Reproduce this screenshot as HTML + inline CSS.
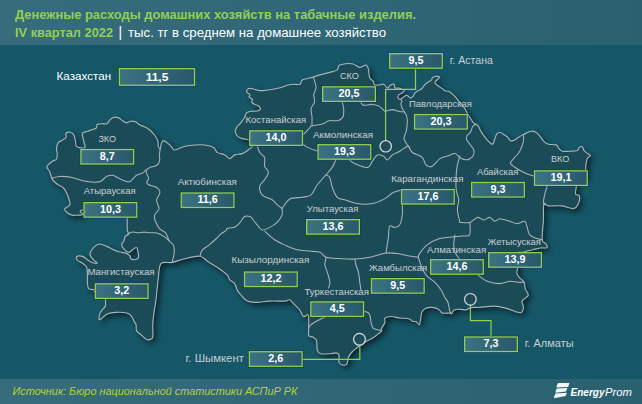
<!DOCTYPE html>
<html><head><meta charset="utf-8"><style>
html,body{margin:0;padding:0;width:642px;height:404px;overflow:hidden;background:#155667;}
svg{display:block;}
text{font-family:"Liberation Sans",sans-serif;}
</style></head><body>
<svg width="642" height="404" viewBox="0 0 642 404">
<defs>
<linearGradient id="hdr" x1="0" y1="0" x2="1" y2="0"><stop offset="0" stop-color="#366c7b"/><stop offset="1" stop-color="#2a6171"/></linearGradient>
<linearGradient id="box" x1="0" y1="0" x2="1" y2="0"><stop offset="0" stop-color="#3c7282"/><stop offset="1" stop-color="#28596a"/></linearGradient>
<filter id="sh" x="-10%" y="-10%" width="130%" height="130%"><feGaussianBlur in="SourceAlpha" stdDeviation="3"/><feOffset dx="3" dy="3"/><feComponentTransfer><feFuncA type="linear" slope="0.6"/></feComponentTransfer><feMerge><feMergeNode/><feMergeNode in="SourceGraphic"/></feMerge></filter>
<filter id="halo" x="-20%" y="-50%" width="140%" height="200%"><feGaussianBlur stdDeviation="0.7"/></filter>
<filter id="bsh" x="-20%" y="-30%" width="150%" height="180%"><feGaussianBlur in="SourceAlpha" stdDeviation="1.5"/><feOffset dx="2" dy="2"/><feComponentTransfer><feFuncA type="linear" slope="0.25"/></feComponentTransfer><feMerge><feMergeNode/><feMergeNode in="SourceGraphic"/></feMerge></filter>
</defs>
<rect x="0" y="0" width="642" height="404" fill="#155667"/>
<path d="M46.9,167.0 C46.9,165.6 48.5,164.5 49.5,163.5 C50.5,162.5 51.8,161.6 53.0,160.9 C54.2,160.2 55.8,160.3 56.5,159.2 C57.2,158.0 57.3,155.7 57.3,154.0 C57.3,152.3 56.4,150.7 56.5,148.8 C56.6,146.9 57.2,144.1 58.2,142.7 C59.2,141.2 61.2,141.0 62.5,140.1 C63.8,139.2 65.4,138.7 66.0,137.5 C66.6,136.3 65.3,134.1 66.0,133.2 C66.7,132.3 69.0,132.0 70.3,132.3 C71.6,132.6 72.9,133.5 73.8,134.9 C74.7,136.3 75.1,139.1 75.5,141.0 C75.9,142.9 75.5,145.0 76.4,146.2 C77.3,147.3 79.2,147.8 80.7,147.9 C82.2,148.1 84.7,148.5 85.1,147.1 C85.5,145.7 83.7,141.6 83.3,139.3 C82.9,137.0 81.9,134.5 82.5,133.2 C83.1,131.9 85.2,132.1 86.8,131.5 C88.4,130.9 90.4,130.3 92.0,129.7 C93.6,129.1 95.4,128.9 96.3,128.0 C97.2,127.1 96.2,125.2 97.2,124.5 C98.2,123.8 100.8,123.8 102.4,123.7 C104.0,123.6 105.7,124.4 106.9,123.8 C108.2,123.2 108.8,121.0 109.9,119.9 C111.1,118.8 112.3,117.6 113.8,117.3 C115.3,117.0 117.3,117.3 118.8,117.9 C120.3,118.5 121.4,120.0 122.7,120.8 C124.0,121.6 125.4,122.7 126.7,122.8 C128.0,122.9 129.1,121.4 130.6,121.2 C132.1,121.0 134.1,121.2 135.6,121.8 C137.1,122.4 138.1,124.0 139.6,124.8 C141.1,125.6 142.8,126.0 144.5,126.8 C146.2,127.6 148.0,128.7 149.5,129.8 C151.0,131.0 152.2,132.4 153.4,133.7 C154.6,135.0 155.6,136.4 156.4,137.7 C157.2,139.0 157.7,140.1 158.0,141.6 C158.3,143.1 158.0,145.4 158.4,146.6 C158.8,147.8 159.8,149.1 160.3,148.6 C160.8,148.1 160.8,144.9 161.3,143.6 C161.8,142.3 162.1,140.6 163.3,140.6 C164.5,140.6 166.8,142.4 168.3,143.6 C169.8,144.8 171.1,146.5 172.2,147.6 C173.3,148.7 172.9,150.2 175.0,150.0 C177.1,149.8 181.6,147.0 184.9,146.2 C188.2,145.4 191.6,145.2 194.9,145.0 C198.2,144.8 201.7,144.6 204.8,145.0 C207.9,145.4 211.5,146.2 213.6,147.4 C215.7,148.6 215.4,151.2 217.3,152.4 C219.2,153.7 222.7,153.9 224.8,154.9 C226.9,155.9 228.2,158.6 229.8,158.6 C231.5,158.6 232.6,155.7 234.7,154.9 C236.8,154.1 239.9,154.4 242.2,153.6 C244.5,152.8 246.5,151.3 248.4,149.9 C250.3,148.5 253.0,146.4 253.4,144.9 C253.8,143.4 251.7,141.5 250.8,140.7 C249.9,139.8 249.3,140.1 248.2,139.8 C247.0,139.5 245.2,139.2 243.9,138.9 C242.6,138.6 241.6,138.7 240.4,138.1 C239.2,137.5 237.8,136.7 236.9,135.5 C236.0,134.3 235.2,132.5 235.2,131.1 C235.2,129.7 236.0,128.1 236.9,126.8 C237.8,125.5 239.1,124.9 240.4,123.3 C241.7,121.7 243.7,119.0 244.7,117.3 C245.7,115.6 245.5,113.9 246.5,112.9 C247.5,111.9 249.2,111.5 250.8,111.2 C252.4,110.9 254.4,111.5 256.0,111.2 C257.6,110.9 259.9,110.4 260.3,109.5 C260.7,108.6 259.6,106.9 258.6,106.0 C257.6,105.1 255.5,105.0 254.3,104.3 C253.2,103.6 252.0,102.6 251.7,101.7 C251.4,100.8 252.9,99.8 252.5,99.1 C252.1,98.4 249.5,98.0 249.1,97.3 C248.7,96.6 250.3,95.6 249.9,94.7 C249.5,93.8 247.1,93.1 246.8,92.1 C246.5,91.1 247.2,89.3 248.2,88.7 C249.1,88.1 250.8,88.4 252.5,88.7 C254.2,89.0 256.6,90.1 258.6,90.4 C260.6,90.7 262.5,90.6 264.7,90.4 C266.9,90.2 269.0,89.9 271.6,89.5 C274.2,89.1 277.7,88.5 280.3,87.8 C282.9,87.1 285.2,85.8 287.2,85.2 C289.2,84.6 290.3,84.5 292.4,84.3 C294.5,84.1 298.4,85.0 300.0,84.3 C301.6,83.6 300.3,81.1 302.3,79.9 C304.3,78.8 309.3,78.2 312.2,77.4 C315.1,76.6 316.8,75.7 319.7,74.9 C322.6,74.1 326.8,73.2 329.7,72.4 C332.6,71.6 335.5,71.1 337.2,69.9 C338.9,68.7 337.2,66.0 339.7,65.0 C342.2,64.0 348.8,63.3 352.1,63.7 C355.4,64.1 357.3,67.2 359.6,67.4 C361.9,67.6 364.4,64.8 365.8,65.0 C367.2,65.2 367.7,66.6 368.3,68.7 C368.9,70.8 368.8,75.3 369.6,77.4 C370.4,79.5 372.5,80.0 373.3,81.2 C374.1,82.5 373.6,84.3 374.6,84.9 C375.6,85.5 378.0,85.0 379.5,84.9 C381.0,84.8 382.4,83.8 383.7,84.3 C385.0,84.8 386.4,87.8 387.5,88.0 C388.6,88.2 389.2,85.8 390.3,85.2 C391.4,84.6 393.2,83.8 394.0,84.3 C394.8,84.8 394.2,87.4 395.0,88.0 C395.8,88.6 397.7,87.9 398.7,88.0 C399.7,88.1 399.9,88.4 400.9,88.8 C401.8,89.2 404.1,89.5 404.4,90.2 C404.6,90.9 403.3,92.0 402.4,92.7 C401.5,93.5 399.7,93.9 399.0,94.7 C398.3,95.5 397.8,97.0 398.0,97.7 C398.2,98.5 399.4,99.4 400.4,99.2 C401.4,99.0 402.8,97.4 403.9,96.7 C405.0,96.0 405.9,95.0 406.9,95.2 C407.9,95.4 408.9,97.5 409.9,97.7 C410.9,98.0 412.0,97.5 412.8,96.7 C413.6,96.0 414.0,94.2 414.8,93.2 C415.6,92.2 416.7,91.4 417.8,90.7 C418.9,90.0 420.6,89.8 421.7,88.8 C422.8,87.8 423.5,86.0 424.7,84.8 C425.9,83.6 427.5,82.6 428.7,81.8 C429.9,81.0 431.0,80.6 431.6,79.9 C432.2,79.2 431.8,78.0 432.6,77.4 C433.4,76.8 435.4,76.5 436.6,76.4 C437.8,76.3 439.4,76.5 439.6,76.9 C439.9,77.3 438.8,78.2 438.1,78.9 C437.4,79.6 436.1,80.6 435.6,81.3 C435.1,82.0 434.6,82.5 435.1,83.3 C435.6,84.1 437.4,85.4 438.6,86.3 C439.8,87.2 441.4,88.1 442.5,88.8 C443.6,89.5 443.8,90.2 445.0,90.7 C446.2,91.2 447.9,90.9 449.5,91.8 C451.1,92.7 453.1,94.6 454.7,96.2 C456.3,97.8 457.4,99.5 459.0,101.4 C460.6,103.3 462.6,105.2 464.2,107.5 C465.8,109.8 466.9,112.7 468.5,115.3 C470.1,117.9 472.3,121.4 473.6,122.9 C474.9,124.4 475.5,123.7 476.3,124.3 C477.1,124.9 477.7,125.3 478.4,126.3 C479.1,127.3 479.4,128.7 480.4,130.4 C481.4,132.1 483.0,134.7 484.5,136.6 C486.0,138.5 487.9,140.8 489.3,142.0 C490.7,143.2 491.8,144.5 492.7,144.1 C493.6,143.7 494.0,141.0 494.7,139.3 C495.4,137.6 495.9,134.9 496.8,133.8 C497.7,132.7 499.1,132.4 500.2,132.5 C501.3,132.6 502.4,133.7 503.6,134.5 C504.9,135.3 506.6,136.2 507.7,137.2 C508.8,138.2 509.3,140.2 510.4,140.7 C511.5,141.2 513.1,140.6 514.5,140.0 C515.9,139.4 517.1,138.1 518.6,137.2 C520.1,136.3 522.0,135.2 523.4,134.5 C524.8,133.8 525.7,133.4 527.0,132.8 C528.3,132.2 529.7,131.2 531.2,131.2 C532.7,131.1 534.8,131.7 536.2,132.5 C537.7,133.3 538.5,134.5 539.9,136.2 C541.3,137.8 543.4,141.1 544.9,142.4 C546.4,143.8 546.8,143.9 548.7,144.3 C550.6,144.7 554.5,144.3 556.1,144.9 C557.8,145.5 557.6,147.1 558.6,148.1 C559.6,149.1 560.5,150.7 562.4,151.2 C564.3,151.7 567.3,151.3 569.8,151.2 C572.3,151.1 575.7,151.1 577.3,150.5 C578.9,149.9 578.4,148.0 579.2,147.4 C580.0,146.8 581.6,146.4 582.3,146.8 C583.0,147.2 583.0,149.0 583.6,149.9 C584.2,150.8 584.9,151.5 586.0,152.4 C587.1,153.3 590.2,154.5 590.4,155.5 C590.6,156.5 588.0,157.0 587.3,158.6 C586.6,160.2 586.3,163.2 586.0,165.0 C585.7,166.8 585.8,167.5 585.7,169.7 C585.7,171.9 587.2,176.6 585.7,178.0 C584.2,179.4 578.0,176.6 576.4,178.0 C574.8,179.4 576.5,183.8 576.4,186.4 C576.2,189.1 575.0,192.4 575.5,193.9 C576.0,195.4 578.6,194.5 579.2,195.7 C579.8,196.9 579.7,199.4 579.2,201.3 C578.7,203.2 577.5,205.7 576.4,206.9 C575.3,208.1 575.2,208.9 572.7,208.7 C570.2,208.5 565.6,206.4 561.6,205.9 C557.6,205.4 551.6,206.2 548.6,205.9 C545.6,205.6 544.8,201.8 543.9,204.1 C543.0,206.4 543.7,213.9 543.4,219.9 C543.1,225.9 541.8,235.9 542.2,239.8 C542.6,243.8 545.1,242.3 545.9,243.6 C546.7,244.8 547.4,246.6 547.2,247.3 C547.0,248.0 546.0,247.9 544.9,248.0 C543.8,248.1 542.4,247.8 540.9,248.0 C539.4,248.2 538.0,248.5 536.1,248.9 C534.2,249.3 531.8,250.0 529.6,250.5 C527.5,251.0 525.2,251.7 523.2,252.1 C521.2,252.5 518.7,251.6 517.8,252.9 C516.9,254.2 517.8,257.6 517.8,260.0 C517.8,262.4 518.0,265.5 517.8,267.6 C517.6,269.7 516.6,271.2 516.8,272.8 C517.0,274.4 517.7,275.4 518.9,277.0 C520.1,278.6 523.0,280.4 524.1,282.3 C525.2,284.2 524.5,286.5 525.2,288.6 C525.9,290.7 528.3,293.3 528.3,294.9 C528.3,296.5 526.2,297.1 525.2,298.1 C524.2,299.2 522.4,300.0 522.0,301.2 C521.6,302.4 522.9,304.0 523.1,305.4 C523.3,306.8 523.5,308.4 523.1,309.6 C522.8,310.8 522.2,312.5 521.0,312.8 C519.8,313.1 518.0,312.4 515.7,311.7 C513.4,311.0 510.7,309.5 507.2,308.6 C503.7,307.7 499.2,306.3 494.7,306.1 C490.2,305.9 483.3,307.2 480.0,307.4 C476.7,307.6 476.5,307.3 474.8,307.4 C473.1,307.5 471.3,307.7 469.8,308.1 C468.3,308.5 467.7,309.7 466.0,309.9 C464.3,310.1 461.8,309.3 459.8,309.3 C457.8,309.3 455.6,309.2 454.2,309.9 C452.8,310.6 452.4,313.2 451.7,313.7 C451.0,314.2 451.4,313.2 449.8,313.1 C448.2,313.0 444.0,313.5 442.4,313.1 C440.8,312.7 440.9,311.4 439.9,310.6 C438.8,309.8 437.8,308.6 436.1,308.1 C434.4,307.6 431.8,307.3 429.9,307.4 C428.0,307.5 426.2,307.9 424.9,308.7 C423.5,309.5 422.5,310.6 421.8,312.4 C421.1,314.2 421.0,317.2 420.6,319.3 C420.2,321.4 420.0,324.5 419.3,324.9 C418.6,325.3 417.3,322.4 416.2,321.8 C415.1,321.2 413.8,321.7 412.5,321.2 C411.2,320.7 410.8,319.2 408.7,318.7 C406.6,318.2 402.9,318.4 400.0,318.0 C397.1,317.6 393.5,316.5 391.0,316.5 C388.5,316.5 385.9,317.2 384.9,318.2 C383.9,319.2 385.5,320.8 384.9,322.5 C384.3,324.2 382.1,327.2 381.5,328.6 C380.9,330.1 382.4,330.1 381.5,331.2 C380.6,332.3 378.0,334.2 376.3,335.5 C374.6,336.8 372.8,338.0 371.1,339.0 C369.4,340.0 367.6,340.6 365.9,341.6 C364.2,342.6 362.1,344.1 360.7,345.1 C359.2,346.1 358.6,346.6 357.2,347.7 C355.8,348.8 353.4,350.4 352.0,352.0 C350.6,353.6 349.4,355.2 348.5,357.2 C347.6,359.2 347.8,362.8 346.8,364.1 C345.8,365.4 343.8,365.3 342.5,365.0 C341.2,364.7 339.6,364.0 339.0,362.4 C338.4,360.8 339.4,357.1 339.0,355.5 C338.6,353.9 337.7,353.2 336.4,352.9 C335.1,352.6 333.8,353.6 331.2,353.7 C328.6,353.8 323.1,354.3 320.8,353.7 C318.5,353.1 318.0,352.5 317.3,350.3 C316.6,348.1 317.2,342.9 316.5,340.7 C315.8,338.5 314.3,338.2 313.0,337.3 C311.7,336.4 309.4,336.9 308.7,335.5 C308.0,334.1 308.7,331.6 308.7,328.6 C308.7,325.6 308.8,319.6 308.7,317.3 C308.6,315.0 308.7,314.8 307.8,314.7 C306.9,314.6 304.8,317.2 303.5,316.5 C302.2,315.8 301.0,311.9 300.0,310.4 C299.0,308.9 298.6,308.7 297.3,307.4 C296.0,306.1 293.6,303.7 292.3,302.4 C291.0,301.1 290.8,300.0 289.5,299.8 C288.2,299.6 287.8,300.9 284.5,301.1 C281.2,301.3 274.2,300.9 269.6,301.1 C265.0,301.3 260.8,302.3 257.1,302.3 C253.4,302.3 250.1,302.6 247.2,301.1 C244.3,299.7 241.4,295.5 239.7,293.6 C238.0,291.7 238.0,291.5 237.2,289.8 C236.4,288.1 235.9,285.2 234.7,283.6 C233.4,282.0 230.9,281.3 229.7,279.9 C228.4,278.4 229.3,277.0 227.2,274.9 C225.1,272.8 220.6,269.7 217.3,267.4 C214.0,265.1 210.2,263.1 207.3,261.2 C204.4,259.3 203.5,256.6 199.8,256.2 C196.1,255.8 189.5,257.7 184.9,258.7 C180.3,259.7 176.4,261.6 172.4,262.4 C168.4,263.2 163.3,261.2 161.0,263.7 C158.7,266.2 159.2,271.4 158.4,277.4 C157.6,283.4 156.7,294.0 156.0,299.8 C155.3,305.6 154.5,308.2 154.0,312.4 C153.5,316.6 153.0,320.7 152.8,324.8 C152.6,328.9 153.3,334.6 152.8,337.1 C152.3,339.6 150.7,339.2 149.7,339.6 C148.7,340.0 147.8,340.2 146.6,339.6 C145.4,339.0 144.0,337.3 142.3,335.9 C140.7,334.4 137.7,332.8 136.7,330.9 C135.7,329.0 136.5,326.3 136.1,324.8 C135.7,323.3 135.4,323.7 134.5,322.1 C133.6,320.5 132.2,316.9 130.8,315.3 C129.4,313.8 128.3,313.3 125.8,312.8 C123.3,312.3 119.0,312.2 115.9,312.4 C112.8,312.6 109.6,313.1 107.3,314.0 C105.0,314.9 103.6,316.8 102.3,317.7 C101.0,318.6 99.6,320.3 99.2,319.6 C98.8,318.9 99.4,315.0 99.9,313.4 C100.4,311.8 101.4,310.9 102.3,309.7 C103.2,308.5 104.9,307.9 105.4,306.0 C105.9,304.1 105.4,300.9 105.4,298.6 C105.4,296.3 107.2,293.1 105.4,292.0 C103.7,290.9 96.7,292.3 94.9,292.0 C93.2,291.7 95.9,290.6 94.9,290.0 C93.9,289.4 90.0,289.9 88.7,288.6 C87.5,287.3 87.6,284.7 87.4,282.4 C87.2,280.1 87.5,277.4 87.4,274.9 C87.3,272.4 87.3,269.1 86.6,267.2 C85.9,265.3 84.5,264.8 83.1,263.7 C81.7,262.6 79.4,261.8 78.2,260.9 C77.0,259.9 76.1,258.8 76.1,258.0 C76.1,257.2 77.0,256.1 78.2,255.9 C79.4,255.7 81.4,255.9 83.1,256.6 C84.8,257.3 86.3,259.1 88.1,260.2 C89.9,261.3 92.2,262.5 93.7,263.0 C95.2,263.5 97.2,263.5 97.2,263.0 C97.2,262.5 94.9,261.5 93.7,260.2 C92.5,258.9 90.7,256.7 90.2,255.2 C89.7,253.7 90.1,252.5 90.9,251.0 C91.7,249.5 93.7,247.3 95.1,246.1 C96.5,244.9 97.4,244.0 99.3,244.0 C101.2,244.0 104.0,245.2 106.3,246.1 C108.6,247.0 111.2,248.7 113.3,249.6 C115.4,250.5 116.8,251.1 118.9,251.7 C121.0,252.3 124.0,252.4 125.9,253.1 C127.8,253.8 129.3,255.1 130.1,256.0 C130.9,256.9 129.9,258.2 130.8,258.8 C131.7,259.4 134.4,259.8 135.7,259.5 C137.0,259.2 138.2,258.7 138.5,257.3 C138.8,255.9 138.2,252.6 137.8,251.0 C137.5,249.4 137.2,247.7 136.4,247.5 C135.6,247.3 134.2,248.8 132.9,249.6 C131.6,250.4 130.3,252.6 128.7,252.4 C127.1,252.2 124.3,249.6 123.1,248.2 C121.9,246.8 121.6,245.2 121.7,244.0 C121.8,242.8 123.2,242.5 123.8,241.2 C124.4,239.9 124.4,237.5 125.2,236.3 C126.0,235.1 128.3,235.2 128.7,234.2 C129.0,233.1 127.5,232.7 127.3,230.0 C127.0,227.3 127.2,221.1 127.2,217.8 C127.2,214.5 134.5,211.3 127.2,210.0 C119.9,208.7 90.5,209.2 83.2,210.0 C75.9,210.8 84.2,213.6 83.2,214.5 C82.2,215.4 78.8,215.1 77.0,215.2 C75.2,215.3 73.7,215.6 72.1,215.2 C70.5,214.8 68.4,213.8 67.2,212.8 C66.0,211.8 64.3,210.2 64.7,209.0 C65.1,207.8 68.8,206.5 69.6,205.3 C70.4,204.1 70.0,203.4 69.6,201.6 C69.2,199.8 68.2,196.5 67.2,194.2 C66.2,191.9 65.0,189.7 63.4,188.0 C61.8,186.3 59.1,185.7 57.3,184.3 C55.4,182.9 53.5,181.5 52.3,179.4 C51.0,177.3 50.7,174.1 49.8,172.0 C48.9,169.9 46.9,168.4 46.9,167.0 Z" fill="#1f4b59" filter="url(#sh)"/>
<path d="M52.3,178.1 C53.5,177.8 56.4,176.5 59.7,176.4 C63.0,176.3 68.4,176.7 72.1,177.4 C75.8,178.1 79.1,179.9 82.0,180.6 C84.9,181.3 87.2,181.5 89.4,181.8 C91.6,182.1 93.1,182.3 95.0,182.2 C96.9,182.1 98.9,182.2 100.9,181.2 C102.9,180.2 104.9,177.3 106.9,176.3 C108.9,175.3 110.8,175.0 112.8,175.3 C114.8,175.6 116.6,177.3 118.8,178.3 C121.0,179.3 123.8,180.7 125.7,181.2 C127.6,181.7 128.2,182.4 130.0,181.5 C131.8,180.6 134.1,176.9 136.2,175.5 C138.3,174.1 140.8,173.9 142.4,173.0 C144.1,172.1 144.9,170.8 146.1,169.9 C147.3,169.0 148.4,168.0 149.8,167.4 C151.2,166.8 153.4,166.8 154.8,166.2 C156.2,165.6 157.7,164.7 158.5,163.7 C159.3,162.7 159.5,161.5 159.7,160.0 C159.8,158.5 159.3,156.4 159.4,154.5 C159.5,152.6 160.2,149.6 160.3,148.6" fill="none" stroke="#aab3b7" stroke-width="1.05" stroke-linejoin="round" stroke-linecap="round"/>
<path d="M146.1,169.9 C146.2,170.5 146.3,172.2 146.7,173.6 C147.1,175.0 148.6,177.1 148.6,178.6 C148.6,180.1 146.7,181.3 146.7,182.3 C146.7,183.3 147.2,184.1 148.6,184.8 C149.9,185.5 153.1,185.8 154.8,186.6 C156.6,187.4 158.3,188.6 159.1,189.7 C159.9,190.8 160.1,191.8 159.7,193.4 C159.3,195.1 156.9,197.7 156.6,199.6 C156.3,201.5 157.6,203.4 158.0,205.0 C158.4,206.6 159.3,207.7 159.0,209.0 C158.7,210.3 156.8,211.8 156.0,213.0 C155.2,214.2 154.6,214.7 154.5,216.0 C154.4,217.3 154.4,218.7 155.2,220.8 C156.0,222.9 157.8,226.6 159.5,228.6 C161.2,230.6 164.0,230.9 165.6,232.9 C167.2,234.9 167.8,238.7 169.1,240.7 C170.4,242.7 172.5,243.2 173.4,245.1 C174.3,247.0 174.5,249.4 174.3,252.0 C174.2,254.6 172.8,259.0 172.5,260.7 C172.2,262.4 172.5,261.8 172.5,262.0" fill="none" stroke="#aab3b7" stroke-width="1.05" stroke-linejoin="round" stroke-linecap="round"/>
<path d="M127.3,234.2 C128.2,233.8 131.0,232.3 132.9,232.1 C134.8,231.9 136.6,232.8 138.5,232.8 C140.4,232.8 142.2,232.1 144.1,232.1 C146.0,232.1 147.9,232.7 150.0,232.8 C152.1,232.9 154.6,232.3 156.9,232.9 C159.2,233.5 161.9,235.1 163.9,236.4 C165.9,237.7 168.2,240.0 169.1,240.7" fill="none" stroke="#aab3b7" stroke-width="1.05" stroke-linejoin="round" stroke-linecap="round"/>
<path d="M200.3,255.5 C200.6,254.6 200.6,252.0 202.0,250.3 C203.4,248.6 206.6,247.0 208.9,245.1 C211.2,243.2 213.9,240.9 215.9,239.0 C217.9,237.1 219.4,235.2 221.1,233.8 C222.8,232.4 225.3,231.2 226.3,230.3 C227.3,229.4 225.7,229.2 227.1,228.6 C228.5,228.0 232.7,227.9 234.9,226.9 C237.1,225.9 238.5,224.2 240.1,222.5 C241.7,220.8 242.8,217.5 244.5,216.5 C246.2,215.5 248.7,216.1 250.0,216.5 C251.3,216.9 251.0,217.3 252.2,218.7 C253.4,220.1 255.5,223.0 257.2,224.9 C258.9,226.8 260.1,229.5 262.2,229.9 C264.3,230.3 267.2,228.7 269.7,227.4 C272.2,226.2 275.0,224.5 277.1,222.4 C279.2,220.3 281.3,217.2 282.1,214.9 C282.9,212.6 282.0,209.6 282.0,208.5" fill="none" stroke="#aab3b7" stroke-width="1.05" stroke-linejoin="round" stroke-linecap="round"/>
<path d="M257.2,145.7 C257.6,146.8 258.5,150.4 259.7,152.4 C260.9,154.4 263.8,155.1 264.6,157.4 C265.4,159.7 264.0,163.6 264.6,166.1 C265.2,168.6 268.4,170.0 268.4,172.3 C268.4,174.6 266.1,177.5 264.6,179.8 C263.2,182.1 260.1,183.5 259.7,186.0 C259.3,188.5 260.0,192.5 262.1,194.8 C264.2,197.1 269.6,198.2 272.1,199.8 C274.6,201.5 275.5,203.2 277.1,204.7 C278.8,206.1 281.2,207.9 282.0,208.5" fill="none" stroke="#aab3b7" stroke-width="1.05" stroke-linejoin="round" stroke-linecap="round"/>
<path d="M282.0,208.5 C283.3,206.9 286.5,200.9 289.9,199.0 C293.3,197.1 298.8,198.0 302.3,197.3 C305.8,196.6 308.6,196.9 311.1,194.8 C313.6,192.7 314.8,188.1 317.3,184.8 C319.8,181.5 323.5,177.8 326.0,174.9 C328.5,172.0 330.5,170.0 332.2,167.4 C333.9,164.8 335.4,160.7 336.0,159.4" fill="none" stroke="#aab3b7" stroke-width="1.05" stroke-linejoin="round" stroke-linecap="round"/>
<path d="M326.0,174.9 C326.6,175.3 328.8,175.3 329.8,177.4 C330.8,179.5 331.0,184.0 332.2,187.3 C333.4,190.6 335.1,195.2 337.2,197.3 C339.3,199.4 341.3,198.8 344.7,199.8 C348.1,200.9 352.8,203.0 357.4,203.6 C362.0,204.2 367.8,204.4 372.4,203.6 C377.0,202.8 381.4,200.5 384.9,198.6 C388.4,196.7 390.9,193.7 393.6,192.3 C396.3,190.9 399.9,190.4 401.1,190.0" fill="none" stroke="#aab3b7" stroke-width="1.05" stroke-linejoin="round" stroke-linecap="round"/>
<path d="M302.5,143.7 C303.3,144.3 304.8,146.2 307.3,147.4 C309.9,148.7 316.1,150.6 317.8,151.2" fill="none" stroke="#aab3b7" stroke-width="1.05" stroke-linejoin="round" stroke-linecap="round"/>
<path d="M313.5,77.4 C313.9,79.1 316.0,84.5 316.0,87.4 C316.0,90.3 313.9,92.6 313.7,95.0 C313.5,97.4 315.0,99.5 314.6,101.8 C314.2,104.1 311.5,106.1 311.1,108.7 C310.7,111.3 311.9,114.5 312.0,117.3 C312.1,120.1 312.0,124.4 312.0,125.8" fill="none" stroke="#aab3b7" stroke-width="1.05" stroke-linejoin="round" stroke-linecap="round"/>
<path d="M303.4,134.4 C304.3,133.5 307.2,130.6 308.6,129.2 C310.0,127.8 309.7,126.6 312.0,125.8 C314.3,125.0 319.4,124.9 322.3,124.1 C325.2,123.2 326.5,121.3 329.1,120.7 C331.7,120.1 335.4,121.3 337.7,120.7 C340.0,120.1 341.8,119.3 342.8,117.3 C343.8,115.3 343.8,111.3 343.7,108.7 C343.6,106.1 342.3,103.0 342.0,101.8" fill="none" stroke="#aab3b7" stroke-width="1.05" stroke-linejoin="round" stroke-linecap="round"/>
<path d="M360.8,101.8 C361.2,102.4 361.5,104.9 363.4,105.3 C365.2,105.7 369.3,104.3 371.9,104.4 C374.5,104.5 376.8,105.1 378.8,106.1 C380.8,107.1 382.8,109.5 383.9,110.4 C385.0,111.3 384.2,111.4 385.6,111.3 C387.0,111.2 390.4,109.6 392.5,109.6 C394.6,109.6 396.5,110.9 398.5,111.3 C400.5,111.7 403.5,112.0 404.5,112.1" fill="none" stroke="#aab3b7" stroke-width="1.05" stroke-linejoin="round" stroke-linecap="round"/>
<path d="M400.4,99.2 C400.6,99.5 401.8,100.3 401.9,101.0 C402.0,101.7 401.0,102.4 401.0,103.6 C401.0,104.8 401.4,106.6 402.0,108.0 C402.6,109.4 403.7,110.5 404.5,112.1 C405.3,113.6 406.6,115.1 407.0,117.3 C407.4,119.5 407.3,123.0 407.1,125.4 C406.9,127.9 406.5,129.9 406.0,132.0 C405.5,134.1 404.0,136.2 404.0,138.0 C404.0,139.8 405.2,141.5 406.0,143.0 C406.8,144.5 408.5,146.3 409.0,147.0" fill="none" stroke="#aab3b7" stroke-width="1.05" stroke-linejoin="round" stroke-linecap="round"/>
<path d="M348.7,159.4 C349.8,160.1 351.9,162.4 355.0,163.7 C358.1,165.0 364.5,167.8 367.4,167.4 C370.3,167.0 370.7,163.3 372.4,161.2 C374.1,159.1 375.5,155.8 377.4,155.0 C379.3,154.2 381.9,155.4 383.6,156.2 C385.3,157.0 385.9,160.2 387.4,160.0 C388.8,159.8 390.2,156.5 392.3,155.0 C394.4,153.5 397.3,152.7 399.8,151.2 C402.3,149.7 405.8,146.9 407.3,146.2 C408.8,145.5 408.7,146.9 409.0,147.0" fill="none" stroke="#aab3b7" stroke-width="1.05" stroke-linejoin="round" stroke-linecap="round"/>
<path d="M476.3,124.3 C475.7,124.6 473.9,124.9 472.9,126.3 C471.9,127.7 471.2,130.9 470.2,132.5 C469.2,134.1 467.4,134.7 466.8,135.9 C466.2,137.2 466.2,138.5 466.8,140.0 C467.4,141.5 469.1,143.1 470.2,144.7 C471.3,146.3 473.0,147.8 473.6,149.5 C474.2,151.2 474.3,153.4 473.6,155.0 C472.9,156.6 470.9,158.2 469.5,159.0 C468.1,159.8 467.0,159.9 465.4,159.7 C463.8,159.5 461.7,158.7 460.0,157.7 C458.3,156.7 457.1,153.9 455.0,153.6 C452.9,153.3 450.0,155.3 447.5,156.1 C445.0,156.9 442.6,156.9 440.0,158.6 C437.4,160.3 434.5,165.1 432.2,166.2 C429.9,167.2 427.7,166.4 426.0,164.9 C424.3,163.4 424.5,159.5 422.2,157.4 C419.9,155.3 414.5,154.2 412.3,152.5 C410.1,150.8 409.6,147.9 409.0,147.0" fill="none" stroke="#aab3b7" stroke-width="1.05" stroke-linejoin="round" stroke-linecap="round"/>
<path d="M459.9,156.0 C459.5,157.5 458.0,161.7 457.4,164.8 C456.8,167.9 456.4,170.6 456.2,174.8 C456.0,179.0 455.8,185.7 456.2,189.8 C456.6,194.0 458.5,196.4 458.7,199.7 C458.9,203.0 457.2,205.9 457.4,209.7 C457.6,213.5 459.5,220.3 459.9,222.4" fill="none" stroke="#aab3b7" stroke-width="1.05" stroke-linejoin="round" stroke-linecap="round"/>
<path d="M459.9,222.4 C461.6,222.4 467.0,223.2 469.9,222.4 C472.8,221.6 475.1,217.8 477.4,217.4 C479.7,217.0 481.5,219.9 483.6,219.9 C485.7,219.9 487.9,217.2 489.8,217.4 C491.7,217.6 493.1,221.0 494.8,221.2 C496.5,221.4 497.3,218.7 499.8,218.7 C502.3,218.7 506.9,220.4 509.8,221.2 C512.7,222.0 514.8,223.6 517.3,223.6 C519.8,223.6 523.1,220.6 524.7,221.2 C526.4,221.8 526.4,225.1 527.2,227.4 C528.0,229.7 528.0,233.0 529.7,234.9 C531.4,236.8 535.1,237.8 537.2,238.6 C539.3,239.4 541.4,239.6 542.2,239.8" fill="none" stroke="#aab3b7" stroke-width="1.05" stroke-linejoin="round" stroke-linecap="round"/>
<path d="M523.4,134.5 C523.4,135.6 524.0,138.6 523.4,141.3 C522.8,144.0 521.4,148.2 519.9,150.9 C518.4,153.6 516.1,155.7 514.5,157.7 C512.9,159.7 510.3,161.5 510.4,163.1 C510.4,164.7 512.2,165.6 514.8,167.3 C517.4,169.1 522.8,172.2 526.0,173.6 C529.2,175.0 532.8,175.6 534.2,176.0" fill="none" stroke="#aab3b7" stroke-width="1.05" stroke-linejoin="round" stroke-linecap="round"/>
<path d="M547.2,186.0 C546.8,187.4 545.3,192.0 544.7,194.7 C544.1,197.4 543.4,200.5 543.4,202.2 C543.4,203.9 544.5,204.5 544.7,205.0" fill="none" stroke="#aab3b7" stroke-width="1.05" stroke-linejoin="round" stroke-linecap="round"/>
<path d="M469.9,222.4 C469.8,224.4 470.9,232.4 469.6,234.7 C468.3,237.0 465.4,235.6 462.1,236.0 C458.8,236.4 453.5,236.8 449.7,237.2 C445.9,237.6 443.3,237.3 439.5,238.6 C435.7,239.9 430.4,242.4 427.1,244.9 C423.8,247.4 421.1,251.5 419.6,253.6 C418.1,255.7 418.5,256.7 418.3,257.3" fill="none" stroke="#aab3b7" stroke-width="1.05" stroke-linejoin="round" stroke-linecap="round"/>
<path d="M455.0,235.0 C454.8,236.6 453.7,241.9 453.7,244.8 C453.7,247.7 453.9,249.9 455.0,252.3 C456.1,254.8 459.2,258.3 460.0,259.5" fill="none" stroke="#aab3b7" stroke-width="1.05" stroke-linejoin="round" stroke-linecap="round"/>
<path d="M477.3,274.4 C478.9,275.5 483.5,279.7 487.2,281.2 C490.9,282.7 495.9,283.6 499.7,283.6 C503.4,283.6 506.7,281.4 509.7,281.2 C512.7,281.0 515.4,282.1 517.8,282.3 C520.2,282.5 523.0,282.3 524.1,282.3" fill="none" stroke="#aab3b7" stroke-width="1.05" stroke-linejoin="round" stroke-linecap="round"/>
<path d="M402.3,204.3 C402.3,206.1 402.7,211.4 402.3,214.8 C401.9,218.2 401.1,222.6 399.8,224.7 C398.5,226.8 396.4,227.2 394.7,227.4 C393.0,227.7 390.8,224.5 389.7,226.2 C388.6,227.9 388.8,234.3 388.4,237.4 C388.0,240.5 387.6,242.3 387.2,244.9 C386.8,247.5 386.2,251.7 386.0,253.1" fill="none" stroke="#aab3b7" stroke-width="1.05" stroke-linejoin="round" stroke-linecap="round"/>
<path d="M264.7,231.1 C266.4,232.6 270.9,237.3 274.6,239.8 C278.3,242.3 283.4,244.4 287.1,246.1 C290.9,247.8 293.4,249.0 297.1,249.8 C300.8,250.6 305.7,250.7 309.5,251.1 C313.3,251.5 317.2,251.3 320.0,252.3 C322.8,253.3 322.8,256.2 326.1,257.3 C329.4,258.4 335.0,258.3 339.8,258.6 C344.6,258.9 349.8,259.3 354.8,259.1 C359.8,258.9 364.6,258.3 369.8,257.3 C375.0,256.3 381.4,253.7 386.0,253.1 C390.6,252.5 393.3,253.1 397.2,253.6 C401.1,254.1 406.1,255.5 409.6,256.1 C413.1,256.7 416.9,257.1 418.3,257.3" fill="none" stroke="#aab3b7" stroke-width="1.05" stroke-linejoin="round" stroke-linecap="round"/>
<path d="M418.3,257.3 C418.7,258.6 419.6,261.9 420.8,264.8 C422.1,267.7 423.5,271.9 425.8,274.8 C428.1,277.7 432.3,279.9 434.9,282.4 C437.4,284.9 439.4,287.5 441.1,290.0 C442.8,292.5 443.8,295.4 444.9,297.5 C446.0,299.6 447.2,300.2 448.0,302.5 C448.8,304.8 449.3,309.4 449.8,311.2 C450.3,313.0 450.8,313.1 451.0,313.5" fill="none" stroke="#aab3b7" stroke-width="1.05" stroke-linejoin="round" stroke-linecap="round"/>
<path d="M326.1,257.3 C325.9,258.6 324.7,262.5 324.9,265.0 C325.1,267.5 326.6,269.5 327.4,272.4 C328.2,275.3 329.7,279.8 329.9,282.4 C330.1,285.0 328.8,287.1 328.6,288.0" fill="none" stroke="#aab3b7" stroke-width="1.05" stroke-linejoin="round" stroke-linecap="round"/>
<path d="M326.0,316.5 C324.6,317.2 319.9,319.4 317.3,320.8 C314.7,322.2 311.8,323.9 310.4,325.1 C309.0,326.3 309.0,327.5 308.7,328.0" fill="none" stroke="#aab3b7" stroke-width="1.05" stroke-linejoin="round" stroke-linecap="round"/>
<path d="M354.8,259.1 C355.0,260.1 355.4,262.8 356.0,265.0 C356.6,267.2 357.9,269.5 358.5,272.4 C359.1,275.3 359.4,279.5 359.8,282.4 C360.2,285.3 360.8,288.7 361.0,290.0" fill="none" stroke="#aab3b7" stroke-width="1.05" stroke-linejoin="round" stroke-linecap="round"/>
<path d="M364.1,311.3 C365.0,311.7 368.1,312.0 369.3,313.9 C370.5,315.8 370.5,320.2 371.1,322.5 C371.7,324.8 371.9,326.5 372.8,327.7 C373.7,328.9 374.9,329.1 376.3,329.5 C377.8,329.9 380.6,330.2 381.5,330.3" fill="none" stroke="#aab3b7" stroke-width="1.05" stroke-linejoin="round" stroke-linecap="round"/>
<path d="M46.9,167.0 C46.9,165.6 48.5,164.5 49.5,163.5 C50.5,162.5 51.8,161.6 53.0,160.9 C54.2,160.2 55.8,160.3 56.5,159.2 C57.2,158.0 57.3,155.7 57.3,154.0 C57.3,152.3 56.4,150.7 56.5,148.8 C56.6,146.9 57.2,144.1 58.2,142.7 C59.2,141.2 61.2,141.0 62.5,140.1 C63.8,139.2 65.4,138.7 66.0,137.5 C66.6,136.3 65.3,134.1 66.0,133.2 C66.7,132.3 69.0,132.0 70.3,132.3 C71.6,132.6 72.9,133.5 73.8,134.9 C74.7,136.3 75.1,139.1 75.5,141.0 C75.9,142.9 75.5,145.0 76.4,146.2 C77.3,147.3 79.2,147.8 80.7,147.9 C82.2,148.1 84.7,148.5 85.1,147.1 C85.5,145.7 83.7,141.6 83.3,139.3 C82.9,137.0 81.9,134.5 82.5,133.2 C83.1,131.9 85.2,132.1 86.8,131.5 C88.4,130.9 90.4,130.3 92.0,129.7 C93.6,129.1 95.4,128.9 96.3,128.0 C97.2,127.1 96.2,125.2 97.2,124.5 C98.2,123.8 100.8,123.8 102.4,123.7 C104.0,123.6 105.7,124.4 106.9,123.8 C108.2,123.2 108.8,121.0 109.9,119.9 C111.1,118.8 112.3,117.6 113.8,117.3 C115.3,117.0 117.3,117.3 118.8,117.9 C120.3,118.5 121.4,120.0 122.7,120.8 C124.0,121.6 125.4,122.7 126.7,122.8 C128.0,122.9 129.1,121.4 130.6,121.2 C132.1,121.0 134.1,121.2 135.6,121.8 C137.1,122.4 138.1,124.0 139.6,124.8 C141.1,125.6 142.8,126.0 144.5,126.8 C146.2,127.6 148.0,128.7 149.5,129.8 C151.0,131.0 152.2,132.4 153.4,133.7 C154.6,135.0 155.6,136.4 156.4,137.7 C157.2,139.0 157.7,140.1 158.0,141.6 C158.3,143.1 158.0,145.4 158.4,146.6 C158.8,147.8 159.8,149.1 160.3,148.6 C160.8,148.1 160.8,144.9 161.3,143.6 C161.8,142.3 162.1,140.6 163.3,140.6 C164.5,140.6 166.8,142.4 168.3,143.6 C169.8,144.8 171.1,146.5 172.2,147.6 C173.3,148.7 172.9,150.2 175.0,150.0 C177.1,149.8 181.6,147.0 184.9,146.2 C188.2,145.4 191.6,145.2 194.9,145.0 C198.2,144.8 201.7,144.6 204.8,145.0 C207.9,145.4 211.5,146.2 213.6,147.4 C215.7,148.6 215.4,151.2 217.3,152.4 C219.2,153.7 222.7,153.9 224.8,154.9 C226.9,155.9 228.2,158.6 229.8,158.6 C231.5,158.6 232.6,155.7 234.7,154.9 C236.8,154.1 239.9,154.4 242.2,153.6 C244.5,152.8 246.5,151.3 248.4,149.9 C250.3,148.5 253.0,146.4 253.4,144.9 C253.8,143.4 251.7,141.5 250.8,140.7 C249.9,139.8 249.3,140.1 248.2,139.8 C247.0,139.5 245.2,139.2 243.9,138.9 C242.6,138.6 241.6,138.7 240.4,138.1 C239.2,137.5 237.8,136.7 236.9,135.5 C236.0,134.3 235.2,132.5 235.2,131.1 C235.2,129.7 236.0,128.1 236.9,126.8 C237.8,125.5 239.1,124.9 240.4,123.3 C241.7,121.7 243.7,119.0 244.7,117.3 C245.7,115.6 245.5,113.9 246.5,112.9 C247.5,111.9 249.2,111.5 250.8,111.2 C252.4,110.9 254.4,111.5 256.0,111.2 C257.6,110.9 259.9,110.4 260.3,109.5 C260.7,108.6 259.6,106.9 258.6,106.0 C257.6,105.1 255.5,105.0 254.3,104.3 C253.2,103.6 252.0,102.6 251.7,101.7 C251.4,100.8 252.9,99.8 252.5,99.1 C252.1,98.4 249.5,98.0 249.1,97.3 C248.7,96.6 250.3,95.6 249.9,94.7 C249.5,93.8 247.1,93.1 246.8,92.1 C246.5,91.1 247.2,89.3 248.2,88.7 C249.1,88.1 250.8,88.4 252.5,88.7 C254.2,89.0 256.6,90.1 258.6,90.4 C260.6,90.7 262.5,90.6 264.7,90.4 C266.9,90.2 269.0,89.9 271.6,89.5 C274.2,89.1 277.7,88.5 280.3,87.8 C282.9,87.1 285.2,85.8 287.2,85.2 C289.2,84.6 290.3,84.5 292.4,84.3 C294.5,84.1 298.4,85.0 300.0,84.3 C301.6,83.6 300.3,81.1 302.3,79.9 C304.3,78.8 309.3,78.2 312.2,77.4 C315.1,76.6 316.8,75.7 319.7,74.9 C322.6,74.1 326.8,73.2 329.7,72.4 C332.6,71.6 335.5,71.1 337.2,69.9 C338.9,68.7 337.2,66.0 339.7,65.0 C342.2,64.0 348.8,63.3 352.1,63.7 C355.4,64.1 357.3,67.2 359.6,67.4 C361.9,67.6 364.4,64.8 365.8,65.0 C367.2,65.2 367.7,66.6 368.3,68.7 C368.9,70.8 368.8,75.3 369.6,77.4 C370.4,79.5 372.5,80.0 373.3,81.2 C374.1,82.5 373.6,84.3 374.6,84.9 C375.6,85.5 378.0,85.0 379.5,84.9 C381.0,84.8 382.4,83.8 383.7,84.3 C385.0,84.8 386.4,87.8 387.5,88.0 C388.6,88.2 389.2,85.8 390.3,85.2 C391.4,84.6 393.2,83.8 394.0,84.3 C394.8,84.8 394.2,87.4 395.0,88.0 C395.8,88.6 397.7,87.9 398.7,88.0 C399.7,88.1 399.9,88.4 400.9,88.8 C401.8,89.2 404.1,89.5 404.4,90.2 C404.6,90.9 403.3,92.0 402.4,92.7 C401.5,93.5 399.7,93.9 399.0,94.7 C398.3,95.5 397.8,97.0 398.0,97.7 C398.2,98.5 399.4,99.4 400.4,99.2 C401.4,99.0 402.8,97.4 403.9,96.7 C405.0,96.0 405.9,95.0 406.9,95.2 C407.9,95.4 408.9,97.5 409.9,97.7 C410.9,98.0 412.0,97.5 412.8,96.7 C413.6,96.0 414.0,94.2 414.8,93.2 C415.6,92.2 416.7,91.4 417.8,90.7 C418.9,90.0 420.6,89.8 421.7,88.8 C422.8,87.8 423.5,86.0 424.7,84.8 C425.9,83.6 427.5,82.6 428.7,81.8 C429.9,81.0 431.0,80.6 431.6,79.9 C432.2,79.2 431.8,78.0 432.6,77.4 C433.4,76.8 435.4,76.5 436.6,76.4 C437.8,76.3 439.4,76.5 439.6,76.9 C439.9,77.3 438.8,78.2 438.1,78.9 C437.4,79.6 436.1,80.6 435.6,81.3 C435.1,82.0 434.6,82.5 435.1,83.3 C435.6,84.1 437.4,85.4 438.6,86.3 C439.8,87.2 441.4,88.1 442.5,88.8 C443.6,89.5 443.8,90.2 445.0,90.7 C446.2,91.2 447.9,90.9 449.5,91.8 C451.1,92.7 453.1,94.6 454.7,96.2 C456.3,97.8 457.4,99.5 459.0,101.4 C460.6,103.3 462.6,105.2 464.2,107.5 C465.8,109.8 466.9,112.7 468.5,115.3 C470.1,117.9 472.3,121.4 473.6,122.9 C474.9,124.4 475.5,123.7 476.3,124.3 C477.1,124.9 477.7,125.3 478.4,126.3 C479.1,127.3 479.4,128.7 480.4,130.4 C481.4,132.1 483.0,134.7 484.5,136.6 C486.0,138.5 487.9,140.8 489.3,142.0 C490.7,143.2 491.8,144.5 492.7,144.1 C493.6,143.7 494.0,141.0 494.7,139.3 C495.4,137.6 495.9,134.9 496.8,133.8 C497.7,132.7 499.1,132.4 500.2,132.5 C501.3,132.6 502.4,133.7 503.6,134.5 C504.9,135.3 506.6,136.2 507.7,137.2 C508.8,138.2 509.3,140.2 510.4,140.7 C511.5,141.2 513.1,140.6 514.5,140.0 C515.9,139.4 517.1,138.1 518.6,137.2 C520.1,136.3 522.0,135.2 523.4,134.5 C524.8,133.8 525.7,133.4 527.0,132.8 C528.3,132.2 529.7,131.2 531.2,131.2 C532.7,131.1 534.8,131.7 536.2,132.5 C537.7,133.3 538.5,134.5 539.9,136.2 C541.3,137.8 543.4,141.1 544.9,142.4 C546.4,143.8 546.8,143.9 548.7,144.3 C550.6,144.7 554.5,144.3 556.1,144.9 C557.8,145.5 557.6,147.1 558.6,148.1 C559.6,149.1 560.5,150.7 562.4,151.2 C564.3,151.7 567.3,151.3 569.8,151.2 C572.3,151.1 575.7,151.1 577.3,150.5 C578.9,149.9 578.4,148.0 579.2,147.4 C580.0,146.8 581.6,146.4 582.3,146.8 C583.0,147.2 583.0,149.0 583.6,149.9 C584.2,150.8 584.9,151.5 586.0,152.4 C587.1,153.3 590.2,154.5 590.4,155.5 C590.6,156.5 588.0,157.0 587.3,158.6 C586.6,160.2 586.3,163.2 586.0,165.0 C585.7,166.8 585.8,167.5 585.7,169.7 C585.7,171.9 587.2,176.6 585.7,178.0 C584.2,179.4 578.0,176.6 576.4,178.0 C574.8,179.4 576.5,183.8 576.4,186.4 C576.2,189.1 575.0,192.4 575.5,193.9 C576.0,195.4 578.6,194.5 579.2,195.7 C579.8,196.9 579.7,199.4 579.2,201.3 C578.7,203.2 577.5,205.7 576.4,206.9 C575.3,208.1 575.2,208.9 572.7,208.7 C570.2,208.5 565.6,206.4 561.6,205.9 C557.6,205.4 551.6,206.2 548.6,205.9 C545.6,205.6 544.8,201.8 543.9,204.1 C543.0,206.4 543.7,213.9 543.4,219.9 C543.1,225.9 541.8,235.9 542.2,239.8 C542.6,243.8 545.1,242.3 545.9,243.6 C546.7,244.8 547.4,246.6 547.2,247.3 C547.0,248.0 546.0,247.9 544.9,248.0 C543.8,248.1 542.4,247.8 540.9,248.0 C539.4,248.2 538.0,248.5 536.1,248.9 C534.2,249.3 531.8,250.0 529.6,250.5 C527.5,251.0 525.2,251.7 523.2,252.1 C521.2,252.5 518.7,251.6 517.8,252.9 C516.9,254.2 517.8,257.6 517.8,260.0 C517.8,262.4 518.0,265.5 517.8,267.6 C517.6,269.7 516.6,271.2 516.8,272.8 C517.0,274.4 517.7,275.4 518.9,277.0 C520.1,278.6 523.0,280.4 524.1,282.3 C525.2,284.2 524.5,286.5 525.2,288.6 C525.9,290.7 528.3,293.3 528.3,294.9 C528.3,296.5 526.2,297.1 525.2,298.1 C524.2,299.2 522.4,300.0 522.0,301.2 C521.6,302.4 522.9,304.0 523.1,305.4 C523.3,306.8 523.5,308.4 523.1,309.6 C522.8,310.8 522.2,312.5 521.0,312.8 C519.8,313.1 518.0,312.4 515.7,311.7 C513.4,311.0 510.7,309.5 507.2,308.6 C503.7,307.7 499.2,306.3 494.7,306.1 C490.2,305.9 483.3,307.2 480.0,307.4 C476.7,307.6 476.5,307.3 474.8,307.4 C473.1,307.5 471.3,307.7 469.8,308.1 C468.3,308.5 467.7,309.7 466.0,309.9 C464.3,310.1 461.8,309.3 459.8,309.3 C457.8,309.3 455.6,309.2 454.2,309.9 C452.8,310.6 452.4,313.2 451.7,313.7 C451.0,314.2 451.4,313.2 449.8,313.1 C448.2,313.0 444.0,313.5 442.4,313.1 C440.8,312.7 440.9,311.4 439.9,310.6 C438.8,309.8 437.8,308.6 436.1,308.1 C434.4,307.6 431.8,307.3 429.9,307.4 C428.0,307.5 426.2,307.9 424.9,308.7 C423.5,309.5 422.5,310.6 421.8,312.4 C421.1,314.2 421.0,317.2 420.6,319.3 C420.2,321.4 420.0,324.5 419.3,324.9 C418.6,325.3 417.3,322.4 416.2,321.8 C415.1,321.2 413.8,321.7 412.5,321.2 C411.2,320.7 410.8,319.2 408.7,318.7 C406.6,318.2 402.9,318.4 400.0,318.0 C397.1,317.6 393.5,316.5 391.0,316.5 C388.5,316.5 385.9,317.2 384.9,318.2 C383.9,319.2 385.5,320.8 384.9,322.5 C384.3,324.2 382.1,327.2 381.5,328.6 C380.9,330.1 382.4,330.1 381.5,331.2 C380.6,332.3 378.0,334.2 376.3,335.5 C374.6,336.8 372.8,338.0 371.1,339.0 C369.4,340.0 367.6,340.6 365.9,341.6 C364.2,342.6 362.1,344.1 360.7,345.1 C359.2,346.1 358.6,346.6 357.2,347.7 C355.8,348.8 353.4,350.4 352.0,352.0 C350.6,353.6 349.4,355.2 348.5,357.2 C347.6,359.2 347.8,362.8 346.8,364.1 C345.8,365.4 343.8,365.3 342.5,365.0 C341.2,364.7 339.6,364.0 339.0,362.4 C338.4,360.8 339.4,357.1 339.0,355.5 C338.6,353.9 337.7,353.2 336.4,352.9 C335.1,352.6 333.8,353.6 331.2,353.7 C328.6,353.8 323.1,354.3 320.8,353.7 C318.5,353.1 318.0,352.5 317.3,350.3 C316.6,348.1 317.2,342.9 316.5,340.7 C315.8,338.5 314.3,338.2 313.0,337.3 C311.7,336.4 309.4,336.9 308.7,335.5 C308.0,334.1 308.7,331.6 308.7,328.6 C308.7,325.6 308.8,319.6 308.7,317.3 C308.6,315.0 308.7,314.8 307.8,314.7 C306.9,314.6 304.8,317.2 303.5,316.5 C302.2,315.8 301.0,311.9 300.0,310.4 C299.0,308.9 298.6,308.7 297.3,307.4 C296.0,306.1 293.6,303.7 292.3,302.4 C291.0,301.1 290.8,300.0 289.5,299.8 C288.2,299.6 287.8,300.9 284.5,301.1 C281.2,301.3 274.2,300.9 269.6,301.1 C265.0,301.3 260.8,302.3 257.1,302.3 C253.4,302.3 250.1,302.6 247.2,301.1 C244.3,299.7 241.4,295.5 239.7,293.6 C238.0,291.7 238.0,291.5 237.2,289.8 C236.4,288.1 235.9,285.2 234.7,283.6 C233.4,282.0 230.9,281.3 229.7,279.9 C228.4,278.4 229.3,277.0 227.2,274.9 C225.1,272.8 220.6,269.7 217.3,267.4 C214.0,265.1 210.2,263.1 207.3,261.2 C204.4,259.3 203.5,256.6 199.8,256.2 C196.1,255.8 189.5,257.7 184.9,258.7 C180.3,259.7 176.4,261.6 172.4,262.4 C168.4,263.2 163.3,261.2 161.0,263.7 C158.7,266.2 159.2,271.4 158.4,277.4 C157.6,283.4 156.7,294.0 156.0,299.8 C155.3,305.6 154.5,308.2 154.0,312.4 C153.5,316.6 153.0,320.7 152.8,324.8 C152.6,328.9 153.3,334.6 152.8,337.1 C152.3,339.6 150.7,339.2 149.7,339.6 C148.7,340.0 147.8,340.2 146.6,339.6 C145.4,339.0 144.0,337.3 142.3,335.9 C140.7,334.4 137.7,332.8 136.7,330.9 C135.7,329.0 136.5,326.3 136.1,324.8 C135.7,323.3 135.4,323.7 134.5,322.1 C133.6,320.5 132.2,316.9 130.8,315.3 C129.4,313.8 128.3,313.3 125.8,312.8 C123.3,312.3 119.0,312.2 115.9,312.4 C112.8,312.6 109.6,313.1 107.3,314.0 C105.0,314.9 103.6,316.8 102.3,317.7 C101.0,318.6 99.6,320.3 99.2,319.6 C98.8,318.9 99.4,315.0 99.9,313.4 C100.4,311.8 101.4,310.9 102.3,309.7 C103.2,308.5 104.9,307.9 105.4,306.0 C105.9,304.1 105.4,300.9 105.4,298.6 C105.4,296.3 107.2,293.1 105.4,292.0 C103.7,290.9 96.7,292.3 94.9,292.0 C93.2,291.7 95.9,290.6 94.9,290.0 C93.9,289.4 90.0,289.9 88.7,288.6 C87.5,287.3 87.6,284.7 87.4,282.4 C87.2,280.1 87.5,277.4 87.4,274.9 C87.3,272.4 87.3,269.1 86.6,267.2 C85.9,265.3 84.5,264.8 83.1,263.7 C81.7,262.6 79.4,261.8 78.2,260.9 C77.0,259.9 76.1,258.8 76.1,258.0 C76.1,257.2 77.0,256.1 78.2,255.9 C79.4,255.7 81.4,255.9 83.1,256.6 C84.8,257.3 86.3,259.1 88.1,260.2 C89.9,261.3 92.2,262.5 93.7,263.0 C95.2,263.5 97.2,263.5 97.2,263.0 C97.2,262.5 94.9,261.5 93.7,260.2 C92.5,258.9 90.7,256.7 90.2,255.2 C89.7,253.7 90.1,252.5 90.9,251.0 C91.7,249.5 93.7,247.3 95.1,246.1 C96.5,244.9 97.4,244.0 99.3,244.0 C101.2,244.0 104.0,245.2 106.3,246.1 C108.6,247.0 111.2,248.7 113.3,249.6 C115.4,250.5 116.8,251.1 118.9,251.7 C121.0,252.3 124.0,252.4 125.9,253.1 C127.8,253.8 129.3,255.1 130.1,256.0 C130.9,256.9 129.9,258.2 130.8,258.8 C131.7,259.4 134.4,259.8 135.7,259.5 C137.0,259.2 138.2,258.7 138.5,257.3 C138.8,255.9 138.2,252.6 137.8,251.0 C137.5,249.4 137.2,247.7 136.4,247.5 C135.6,247.3 134.2,248.8 132.9,249.6 C131.6,250.4 130.3,252.6 128.7,252.4 C127.1,252.2 124.3,249.6 123.1,248.2 C121.9,246.8 121.6,245.2 121.7,244.0 C121.8,242.8 123.2,242.5 123.8,241.2 C124.4,239.9 124.4,237.5 125.2,236.3 C126.0,235.1 128.3,235.2 128.7,234.2 C129.0,233.1 127.5,232.7 127.3,230.0 C127.0,227.3 127.2,221.1 127.2,217.8 C127.2,214.5 134.5,211.3 127.2,210.0 C119.9,208.7 90.5,209.2 83.2,210.0 C75.9,210.8 84.2,213.6 83.2,214.5 C82.2,215.4 78.8,215.1 77.0,215.2 C75.2,215.3 73.7,215.6 72.1,215.2 C70.5,214.8 68.4,213.8 67.2,212.8 C66.0,211.8 64.3,210.2 64.7,209.0 C65.1,207.8 68.8,206.5 69.6,205.3 C70.4,204.1 70.0,203.4 69.6,201.6 C69.2,199.8 68.2,196.5 67.2,194.2 C66.2,191.9 65.0,189.7 63.4,188.0 C61.8,186.3 59.1,185.7 57.3,184.3 C55.4,182.9 53.5,181.5 52.3,179.4 C51.0,177.3 50.7,174.1 49.8,172.0 C48.9,169.9 46.9,168.4 46.9,167.0 Z" fill="none" stroke="#aab3b7" stroke-width="1.15" stroke-linejoin="round"/>
<polyline points="415.5,68.7 415.5,89.4 385.6,89.4 385.6,140.4" fill="none" stroke="#92d050" stroke-width="1.2"/>
<circle cx="385.7" cy="146.3" r="5.7" fill="#1f4b59" stroke="#d8dde0" stroke-width="1.2"/>
<polyline points="470.4,305 470.4,320.7 491,320.7 491,336.6" fill="none" stroke="#92d050" stroke-width="1.2"/>
<circle cx="470.4" cy="299.3" r="5.8" fill="#1f4b59" stroke="#d8dde0" stroke-width="1.2"/>
<polyline points="359.8,345.3 359.8,359.3 302.3,359.3" fill="none" stroke="#92d050" stroke-width="1.2"/>
<circle cx="359.5" cy="339.3" r="5.9" fill="#1f4b59" stroke="#d8dde0" stroke-width="1.2"/>
<rect x="118.20" y="67.40" width="77.60" height="19.10" fill="#10333e" opacity="0.55" filter="url(#halo)"/>
<rect x="118.80" y="68.00" width="76.40" height="17.90" fill="#92d14f"/>
<rect x="120.05" y="69.25" width="73.90" height="15.40" fill="url(#box)"/>
<text x="157.0" y="81.0" text-anchor="middle" font-family="Liberation Sans" font-weight="bold" font-size="11.2" fill="#ffffff" textLength="22.7" lengthAdjust="spacingAndGlyphs">11,5</text>
<rect x="79.65" y="148.30" width="55.20" height="17.00" fill="#10333e" opacity="0.55" filter="url(#halo)"/>
<rect x="80.25" y="148.90" width="54.00" height="15.80" fill="#92d14f"/>
<rect x="81.50" y="150.15" width="51.50" height="13.30" fill="url(#box)"/>
<text x="107.2" y="159.9" text-anchor="middle" font-family="Liberation Sans" font-weight="bold" font-size="10.8" fill="#ffffff">8,7</text>
<rect x="82.80" y="201.40" width="55.20" height="17.00" fill="#10333e" opacity="0.55" filter="url(#halo)"/>
<rect x="83.40" y="202.00" width="54.00" height="15.80" fill="#92d14f"/>
<rect x="84.65" y="203.25" width="51.50" height="13.30" fill="url(#box)"/>
<text x="110.4" y="213.0" text-anchor="middle" font-family="Liberation Sans" font-weight="bold" font-size="10.8" fill="#ffffff">10,3</text>
<rect x="180.00" y="191.75" width="55.20" height="17.00" fill="#10333e" opacity="0.55" filter="url(#halo)"/>
<rect x="180.60" y="192.35" width="54.00" height="15.80" fill="#92d14f"/>
<rect x="181.85" y="193.60" width="51.50" height="13.30" fill="url(#box)"/>
<text x="207.6" y="203.3" text-anchor="middle" font-family="Liberation Sans" font-weight="bold" font-size="10.8" fill="#ffffff">11,6</text>
<rect x="94.10" y="282.60" width="55.20" height="17.00" fill="#10333e" opacity="0.55" filter="url(#halo)"/>
<rect x="94.70" y="283.20" width="54.00" height="15.80" fill="#92d14f"/>
<rect x="95.95" y="284.45" width="51.50" height="13.30" fill="url(#box)"/>
<text x="121.7" y="294.2" text-anchor="middle" font-family="Liberation Sans" font-weight="bold" font-size="10.8" fill="#ffffff">3,2</text>
<rect x="248.50" y="129.60" width="55.20" height="17.00" fill="#10333e" opacity="0.55" filter="url(#halo)"/>
<rect x="249.10" y="130.20" width="54.00" height="15.80" fill="#92d14f"/>
<rect x="250.35" y="131.45" width="51.50" height="13.30" fill="url(#box)"/>
<text x="276.1" y="141.2" text-anchor="middle" font-family="Liberation Sans" font-weight="bold" font-size="10.8" fill="#ffffff">14,0</text>
<rect x="321.40" y="85.60" width="55.20" height="17.00" fill="#10333e" opacity="0.55" filter="url(#halo)"/>
<rect x="322.00" y="86.20" width="54.00" height="15.80" fill="#92d14f"/>
<rect x="323.25" y="87.45" width="51.50" height="13.30" fill="url(#box)"/>
<text x="349.0" y="97.2" text-anchor="middle" font-family="Liberation Sans" font-weight="bold" font-size="10.8" fill="#ffffff">20,5</text>
<rect x="316.75" y="143.45" width="55.20" height="17.00" fill="#10333e" opacity="0.55" filter="url(#halo)"/>
<rect x="317.35" y="144.05" width="54.00" height="15.80" fill="#92d14f"/>
<rect x="318.60" y="145.30" width="51.50" height="13.30" fill="url(#box)"/>
<text x="344.4" y="155.0" text-anchor="middle" font-family="Liberation Sans" font-weight="bold" font-size="10.8" fill="#ffffff">19,3</text>
<rect x="388.35" y="52.45" width="55.20" height="17.00" fill="#10333e" opacity="0.55" filter="url(#halo)"/>
<rect x="388.95" y="53.05" width="54.00" height="15.80" fill="#92d14f"/>
<rect x="390.20" y="54.30" width="51.50" height="13.30" fill="url(#box)"/>
<text x="416.0" y="64.1" text-anchor="middle" font-family="Liberation Sans" font-weight="bold" font-size="10.8" fill="#ffffff">9,5</text>
<rect x="413.30" y="113.30" width="55.20" height="17.00" fill="#10333e" opacity="0.55" filter="url(#halo)"/>
<rect x="413.90" y="113.90" width="54.00" height="15.80" fill="#92d14f"/>
<rect x="415.15" y="115.15" width="51.50" height="13.30" fill="url(#box)"/>
<text x="440.9" y="124.9" text-anchor="middle" font-family="Liberation Sans" font-weight="bold" font-size="10.8" fill="#ffffff">20,3</text>
<rect x="400.25" y="188.30" width="55.20" height="17.00" fill="#10333e" opacity="0.55" filter="url(#halo)"/>
<rect x="400.85" y="188.90" width="54.00" height="15.80" fill="#92d14f"/>
<rect x="402.10" y="190.15" width="51.50" height="13.30" fill="url(#box)"/>
<text x="427.9" y="199.9" text-anchor="middle" font-family="Liberation Sans" font-weight="bold" font-size="10.8" fill="#ffffff">17,6</text>
<rect x="470.35" y="181.25" width="55.20" height="17.00" fill="#10333e" opacity="0.55" filter="url(#halo)"/>
<rect x="470.95" y="181.85" width="54.00" height="15.80" fill="#92d14f"/>
<rect x="472.20" y="183.10" width="51.50" height="13.30" fill="url(#box)"/>
<text x="498.0" y="192.8" text-anchor="middle" font-family="Liberation Sans" font-weight="bold" font-size="10.8" fill="#ffffff">9,3</text>
<rect x="533.25" y="169.65" width="55.20" height="17.00" fill="#10333e" opacity="0.55" filter="url(#halo)"/>
<rect x="533.85" y="170.25" width="54.00" height="15.80" fill="#92d14f"/>
<rect x="535.10" y="171.50" width="51.50" height="13.30" fill="url(#box)"/>
<text x="560.9" y="181.2" text-anchor="middle" font-family="Liberation Sans" font-weight="bold" font-size="10.8" fill="#ffffff">19,1</text>
<rect x="305.40" y="218.40" width="55.20" height="17.00" fill="#10333e" opacity="0.55" filter="url(#halo)"/>
<rect x="306.00" y="219.00" width="54.00" height="15.80" fill="#92d14f"/>
<rect x="307.25" y="220.25" width="51.50" height="13.30" fill="url(#box)"/>
<text x="333.0" y="230.0" text-anchor="middle" font-family="Liberation Sans" font-weight="bold" font-size="10.8" fill="#ffffff">13,6</text>
<rect x="243.25" y="270.80" width="55.20" height="17.00" fill="#10333e" opacity="0.55" filter="url(#halo)"/>
<rect x="243.85" y="271.40" width="54.00" height="15.80" fill="#92d14f"/>
<rect x="245.10" y="272.65" width="51.50" height="13.30" fill="url(#box)"/>
<text x="270.9" y="282.4" text-anchor="middle" font-family="Liberation Sans" font-weight="bold" font-size="10.8" fill="#ffffff">12,2</text>
<rect x="370.20" y="277.40" width="55.20" height="17.00" fill="#10333e" opacity="0.55" filter="url(#halo)"/>
<rect x="370.80" y="278.00" width="54.00" height="15.80" fill="#92d14f"/>
<rect x="372.05" y="279.25" width="51.50" height="13.30" fill="url(#box)"/>
<text x="397.8" y="289.0" text-anchor="middle" font-family="Liberation Sans" font-weight="bold" font-size="10.8" fill="#ffffff">9,5</text>
<rect x="429.35" y="258.45" width="55.20" height="17.00" fill="#10333e" opacity="0.55" filter="url(#halo)"/>
<rect x="429.95" y="259.05" width="54.00" height="15.80" fill="#92d14f"/>
<rect x="431.20" y="260.30" width="51.50" height="13.30" fill="url(#box)"/>
<text x="456.9" y="270.1" text-anchor="middle" font-family="Liberation Sans" font-weight="bold" font-size="10.8" fill="#ffffff">14,6</text>
<rect x="487.45" y="251.45" width="55.20" height="17.00" fill="#10333e" opacity="0.55" filter="url(#halo)"/>
<rect x="488.05" y="252.05" width="54.00" height="15.80" fill="#92d14f"/>
<rect x="489.30" y="253.30" width="51.50" height="13.30" fill="url(#box)"/>
<text x="515.0" y="263.0" text-anchor="middle" font-family="Liberation Sans" font-weight="bold" font-size="10.8" fill="#ffffff">13,9</text>
<rect x="309.60" y="300.65" width="55.20" height="17.00" fill="#10333e" opacity="0.55" filter="url(#halo)"/>
<rect x="310.20" y="301.25" width="54.00" height="15.80" fill="#92d14f"/>
<rect x="311.45" y="302.50" width="51.50" height="13.30" fill="url(#box)"/>
<text x="337.2" y="312.2" text-anchor="middle" font-family="Liberation Sans" font-weight="bold" font-size="10.8" fill="#ffffff">4,5</text>
<rect x="248.15" y="350.50" width="55.20" height="17.00" fill="#10333e" opacity="0.55" filter="url(#halo)"/>
<rect x="248.75" y="351.10" width="54.00" height="15.80" fill="#92d14f"/>
<rect x="250.00" y="352.35" width="51.50" height="13.30" fill="url(#box)"/>
<text x="275.8" y="362.1" text-anchor="middle" font-family="Liberation Sans" font-weight="bold" font-size="10.8" fill="#ffffff">2,6</text>
<rect x="463.35" y="335.75" width="55.20" height="17.00" fill="#10333e" opacity="0.55" filter="url(#halo)"/>
<rect x="463.95" y="336.35" width="54.00" height="15.80" fill="#92d14f"/>
<rect x="465.20" y="337.60" width="51.50" height="13.30" fill="url(#box)"/>
<text x="491.0" y="347.4" text-anchor="middle" font-family="Liberation Sans" font-weight="bold" font-size="10.8" fill="#ffffff">7,3</text>
<text x="56.5" y="79.9" font-family="Liberation Sans" font-size="11.1" fill="#ffffff" textLength="54.6" lengthAdjust="spacingAndGlyphs">Казахстан</text>
<text x="98.4" y="141.8" font-family="Liberation Sans" font-size="9.0" fill="#c9cfd2" textLength="17.7" lengthAdjust="spacingAndGlyphs">ЗКО</text>
<text x="83.7" y="194.3" font-family="Liberation Sans" font-size="9.0" fill="#c9cfd2" textLength="51.9" lengthAdjust="spacingAndGlyphs">Атырауская</text>
<text x="177.7" y="185.0" font-family="Liberation Sans" font-size="9.0" fill="#c9cfd2" textLength="59.2" lengthAdjust="spacingAndGlyphs">Актюбинская</text>
<text x="87.4" y="274.7" font-family="Liberation Sans" font-size="9.0" fill="#c9cfd2" textLength="67.2" lengthAdjust="spacingAndGlyphs">Мангистауская</text>
<text x="245.5" y="123.2" font-family="Liberation Sans" font-size="9.0" fill="#c9cfd2" textLength="60.6" lengthAdjust="spacingAndGlyphs">Костанайская</text>
<text x="339.9" y="79.2" font-family="Liberation Sans" font-size="9.0" fill="#c9cfd2" textLength="18.9" lengthAdjust="spacingAndGlyphs">СКО</text>
<text x="313.0" y="138.1" font-family="Liberation Sans" font-size="9.0" fill="#c9cfd2" textLength="60.0" lengthAdjust="spacingAndGlyphs">Акмолинская</text>
<text x="409.0" y="106.8" font-family="Liberation Sans" font-size="9.0" fill="#c9cfd2" textLength="63.0" lengthAdjust="spacingAndGlyphs">Павлодарская</text>
<text x="476.9" y="174.9" font-family="Liberation Sans" font-size="9.0" fill="#c9cfd2" textLength="41.4" lengthAdjust="spacingAndGlyphs">Абайская</text>
<text x="551.0" y="161.8" font-family="Liberation Sans" font-size="9.0" fill="#c9cfd2" textLength="18.4" lengthAdjust="spacingAndGlyphs">ВКО</text>
<text x="391.2" y="182.4" font-family="Liberation Sans" font-size="9.0" fill="#c9cfd2" textLength="72.3" lengthAdjust="spacingAndGlyphs">Карагандинская</text>
<text x="306.8" y="212.0" font-family="Liberation Sans" font-size="9.0" fill="#c9cfd2" textLength="51.7" lengthAdjust="spacingAndGlyphs">Улытауская</text>
<text x="231.5" y="262.7" font-family="Liberation Sans" font-size="9.0" fill="#c9cfd2" textLength="77.9" lengthAdjust="spacingAndGlyphs">Кызылординская</text>
<text x="368.9" y="271.2" font-family="Liberation Sans" font-size="9.0" fill="#c9cfd2" textLength="58.3" lengthAdjust="spacingAndGlyphs">Жамбылская</text>
<text x="304.5" y="294.8" font-family="Liberation Sans" font-size="9.0" fill="#c9cfd2" textLength="64.4" lengthAdjust="spacingAndGlyphs">Туркестанская</text>
<text x="427.0" y="253.4" font-family="Liberation Sans" font-size="9.0" fill="#c9cfd2" textLength="59.2" lengthAdjust="spacingAndGlyphs">Алматинская</text>
<text x="487.8" y="245.0" font-family="Liberation Sans" font-size="9.0" fill="#c9cfd2" textLength="53.0" lengthAdjust="spacingAndGlyphs">Жетысуская</text>
<text x="449.7" y="63.9" font-family="Liberation Sans" font-size="10.6" fill="#c9cfd2" textLength="43.3" lengthAdjust="spacingAndGlyphs">г. Астана</text>
<text x="524.7" y="346.8" font-family="Liberation Sans" font-size="10.6" fill="#c9cfd2" textLength="48.9" lengthAdjust="spacingAndGlyphs">г. Алматы</text>
<text x="185.6" y="361.8" font-family="Liberation Sans" font-size="10.6" fill="#c9cfd2" textLength="58.3" lengthAdjust="spacingAndGlyphs">г. Шымкент</text>
<rect x="0" y="0" width="642" height="45" fill="url(#hdr)"/>
<text x="15" y="18.7" font-family="Liberation Sans" font-weight="bold" font-size="12.6" fill="#92d050" textLength="401" lengthAdjust="spacingAndGlyphs">Денежные расходы домашних хозяйств на табачные изделия.</text>
<text x="15" y="36.9" font-family="Liberation Sans" font-weight="bold" font-size="12.6" fill="#92d050" textLength="98" lengthAdjust="spacingAndGlyphs">IV квартал 2022</text>
<rect x="119.6" y="26" width="1.6" height="14" fill="#dfe5e8"/>
<text x="128" y="36.9" font-family="Liberation Sans" font-size="12.6" fill="#ffffff" textLength="258" lengthAdjust="spacingAndGlyphs">тыс. тг в среднем на домашнее хозяйство</text>
<rect x="0" y="379" width="642" height="25" fill="url(#hdr)"/>
<text x="12.5" y="395" font-family="Liberation Sans" font-style="italic" font-size="11.5" fill="#b5d334" textLength="285" lengthAdjust="spacingAndGlyphs">Источник: Бюро национальной статистики АСПиР РК</text>
<path d="M558.1,383 L569.5,383 L568.1,386.9 L556.5,387.4 Q556.6,384.6 558.1,383 Z" fill="#f2f4f5"/>
<path d="M556.9,388.4 L567.3,388 L566,391.5 L555.3,392.7 Q555.6,390 556.9,388.4 Z" fill="#f2f4f5"/>
<path d="M555.6,393.4 L566.9,392.7 L565.7,396.1 L554,398.2 Q554.3,395.2 555.6,393.4 Z" fill="#f2f4f5"/>
<text x="570.5" y="396.3" font-family="Liberation Sans" font-style="italic" font-weight="bold" font-size="10.8" fill="#ffffff" textLength="34" lengthAdjust="spacingAndGlyphs">Energy</text>
<text x="605" y="396.3" font-family="Liberation Sans" font-style="italic" font-size="10.8" fill="#ffffff" textLength="27" lengthAdjust="spacingAndGlyphs">Prom</text>
</svg>
</body></html>
